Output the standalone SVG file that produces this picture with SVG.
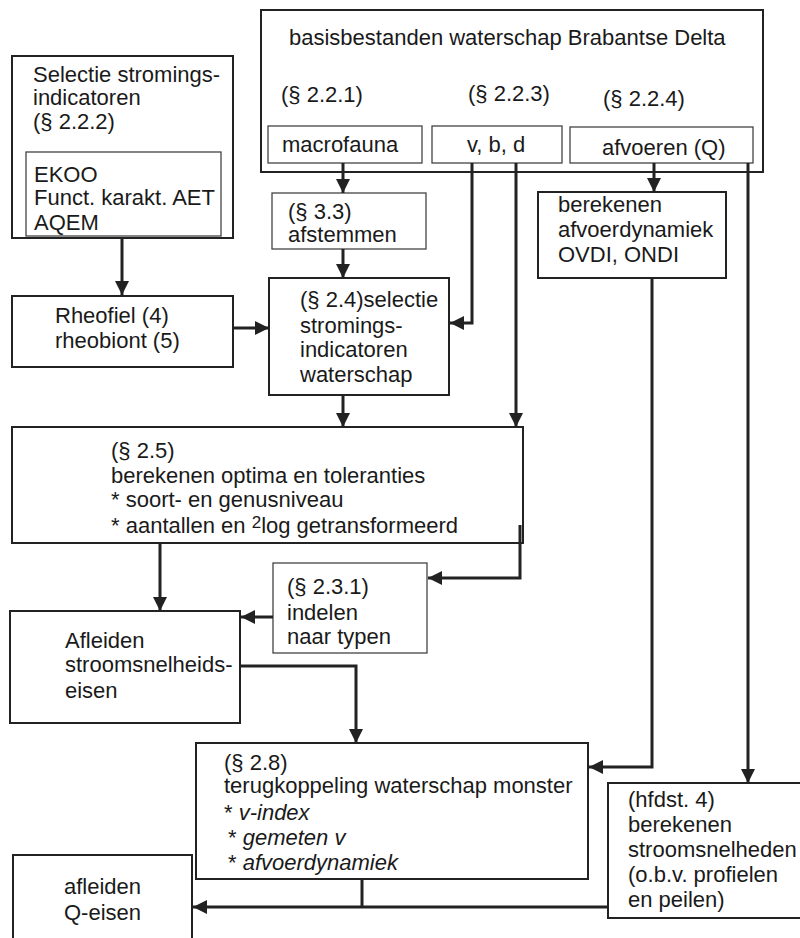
<svg xmlns="http://www.w3.org/2000/svg" width="800" height="938" viewBox="0 0 800 938">
<style>
text{font-family:"Liberation Sans",Arial,sans-serif;font-size:22px;fill:#1a1a1a}
.b{fill:#fff;stroke:#222;stroke-width:2}
.t{fill:#fff;stroke:#444;stroke-width:1.3}
.c{fill:none;stroke:#222;stroke-width:3}
.i{font-style:italic}
</style>
<defs>
<marker id="ah" markerUnits="userSpaceOnUse" markerWidth="14" markerHeight="14" viewBox="0 0 14 14" refX="14" refY="7" orient="auto">
<path d="M0,0 L14,7 L0,14 z" fill="#222"/>
</marker>
</defs>
<rect width="800" height="938" fill="#fff"/>

<g id="basisbestanden">
<rect class="b" x="261" y="10" width="502" height="162"/>
<text x="289" y="45">basisbestanden waterschap Brabantse Delta</text>
<text x="281" y="102">(§ 2.2.1)</text>
<text x="468" y="101">(§ 2.2.3)</text>
<text x="603" y="106">(§ 2.2.4)</text>
</g>
<g id="macrofauna">
<rect class="t" x="268" y="126" width="154" height="37"/>
<text x="282" y="152">macrofauna</text>
</g>
<g id="vbd">
<rect class="t" x="432" y="126" width="130" height="37"/>
<text x="467" y="152">v, b, d</text>
</g>
<g id="afvoeren">
<rect class="t" x="570" y="127" width="183" height="36"/>
<text x="602" y="155">afvoeren (Q)</text>
</g>

<g id="selectie">
<rect class="b" x="12" y="56" width="221" height="182"/>
<text x="33" y="82">Selectie stromings-</text>
<text x="33" y="105">indicatoren</text>
<text x="33" y="129">(§ 2.2.2)</text>
<rect class="t" x="26" y="152" width="195" height="84"/>
<text x="34" y="182">EKOO</text>
<text x="34" y="205">Funct. karakt. AET</text>
<text x="34" y="230">AQEM</text>
</g>

<g id="afstemmen">
<rect class="t" x="272" y="193" width="154" height="56"/>
<text x="288" y="219">(§ 3.3)</text>
<text x="288" y="242">afstemmen</text>
</g>

<g id="afvoerdynamiek">
<rect class="b" x="538" y="192" width="188" height="86"/>
<text x="558" y="212">berekenen</text>
<text x="558" y="237">afvoerdynamiek</text>
<text x="558" y="262">OVDI, ONDI</text>
</g>

<g id="rheofiel">
<rect class="b" x="12" y="296" width="221" height="71"/>
<text x="55" y="323">Rheofiel (4)</text>
<text x="55" y="348">rheobiont (5)</text>
</g>

<g id="selectie-waterschap">
<rect class="b" x="269" y="278" width="180" height="117"/>
<text x="300" y="307">(§ 2.4)selectie</text>
<text x="300" y="333">stromings-</text>
<text x="300" y="357">indicatoren</text>
<text x="300" y="382">waterschap</text>
</g>

<g id="optima">
<rect class="b" x="12" y="427" width="511" height="116"/>
<text x="111" y="458">(§ 2.5)</text>
<text x="111" y="483">berekenen optima en toleranties</text>
<text x="111" y="507">* soort- en genusniveau</text>
<text x="111" y="533">* aantallen en <tspan font-size="17" dy="-5">2</tspan><tspan dy="5">log getransformeerd</tspan></text>
</g>

<g id="indelen">
<rect class="t" x="273" y="563" width="154" height="90"/>
<text x="287" y="594">(§ 2.3.1)</text>
<text x="287" y="620">indelen</text>
<text x="287" y="644">naar typen</text>
</g>

<g id="afleiden-v">
<rect class="b" x="10" y="611" width="230" height="112"/>
<text x="65" y="648">Afleiden</text>
<text x="65" y="672">stroomsnelheids-</text>
<text x="65" y="698">eisen</text>
</g>

<g id="terugkoppeling">
<rect class="b" x="196" y="743" width="392" height="136"/>
<text x="224" y="770">(§ 2.8)</text>
<text x="224" y="793">terugkoppeling waterschap monster</text>
<text x="224" y="820">* <tspan class="i">v-index</tspan></text>
<text x="228" y="845">* <tspan class="i">gemeten v</tspan></text>
<text x="228" y="870">* <tspan class="i">afvoerdynamiek</tspan></text>
</g>

<g id="stroomsnelheden">
<rect class="b" x="608" y="783" width="200" height="135"/>
<text x="628" y="807">(hfdst. 4)</text>
<text x="628" y="832">berekenen</text>
<text x="628" y="857">stroomsnelheden</text>
<text x="628" y="882">(o.b.v. profielen</text>
<text x="628" y="907">en peilen)</text>
</g>

<g id="afleiden-q">
<rect class="b" x="13" y="855" width="179" height="95"/>
<text x="64" y="894">afleiden</text>
<text x="64" y="920">Q-eisen</text>
</g>

<g id="connectors">
<path class="c" d="M122,238 V295" marker-end="url(#ah)"/>
<path class="c" d="M233,328 H269" marker-end="url(#ah)"/>
<path class="c" d="M343,163 V193" marker-end="url(#ah)"/>
<path class="c" d="M343,249 V278" marker-end="url(#ah)"/>
<path class="c" d="M472,163 V323 H450" marker-end="url(#ah)"/>
<path class="c" d="M516,163 V427" marker-end="url(#ah)"/>
<path class="c" d="M654,163 V192" marker-end="url(#ah)"/>
<path class="c" d="M343,395 V427" marker-end="url(#ah)"/>
<path class="c" d="M160,543 V611" marker-end="url(#ah)"/>
<path class="c" d="M520,525 V578 H428" marker-end="url(#ah)"/>
<path class="c" d="M273,617 H241" marker-end="url(#ah)"/>
<path class="c" d="M240,666 H356 V743" marker-end="url(#ah)"/>
<path class="c" d="M652,278 V767 H589" marker-end="url(#ah)"/>
<path class="c" d="M748,163 V783" marker-end="url(#ah)"/>
<path class="c" d="M608,907 H193" marker-end="url(#ah)"/>
<path class="c" d="M362,879 V907"/>
</g>
</svg>
